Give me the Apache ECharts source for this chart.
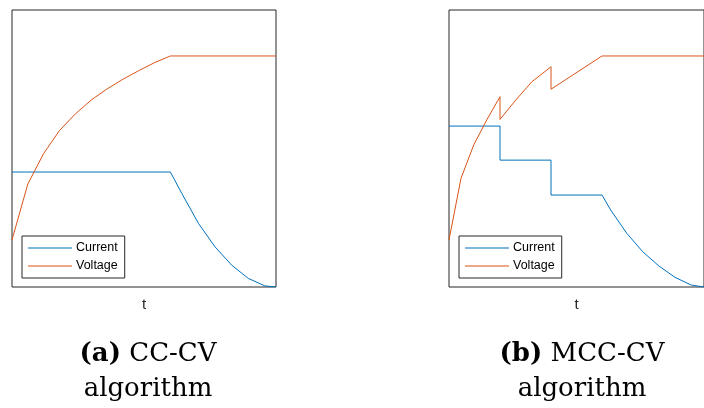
<!DOCTYPE html>
<html>
<head>
<meta charset="utf-8">
<script src="https://cdn.jsdelivr.net/npm/echarts@6/dist/echarts.min.js"></script>
<style>html,body{margin:0;padding:0;background:#fff}#c{width:704px;height:408px}</style>
</head>
<body>
<div id="c"></div>
<script>
// ---- Data (t normalized 0..100, values normalized 0..1) ----
const seriesNames = ['Current', 'Voltage'];

// (a) CC-CV
const ccT_current = [0, 60, 64.3, 70.6, 76.9, 83.2, 89.5, 95.8, 100];
const cc_current  = [0.415, 0.415, 0.338, 0.230, 0.145, 0.079, 0.031, 0.004, 0];
const ccT_voltage = [0, 6, 12, 18, 24, 30, 36, 42, 48, 54, 60, 100];
const cc_voltage  = [0.170, 0.372, 0.482, 0.565, 0.625, 0.675, 0.715, 0.750, 0.781, 0.810, 0.834, 0.834];

// (b) MCC-CV
const mccT_current = [0, 20, 20, 40, 40, 60, 63.4, 69.7, 76.0, 82.3, 88.6, 95.0, 100];
const mcc_current  = [0.581, 0.581, 0.458, 0.458, 0.332, 0.332, 0.278, 0.194, 0.127, 0.076, 0.035, 0.007, 0];
const mccT_voltage = [0, 4.7, 9.7, 14.8, 20, 20, 26.2, 32.5, 40, 40, 49.5, 60, 100];
const mcc_voltage  = [0.170, 0.392, 0.513, 0.603, 0.687, 0.605, 0.675, 0.741, 0.795, 0.714, 0.771, 0.834, 0.834];

const xLabel = 't';
const captions = [
  {tag: '(a)', title: 'CC-CV', line2: 'algorithm'},
  {tag: '(b)', title: 'MCC-CV', line2: 'algorithm'}
];

// ---- Build ----
const zip = (a, b) => a.map((v, i) => [v, b[i]]);
const BLUE = '#0072BD', ORANGE = '#D95319', AX = '#262626';
const grids = [
  {left: 12, top: 10, width: 264, height: 277},
  {left: 449, top: 10, width: 264, height: 277}
];
const chart = echarts.init(document.getElementById('c'), null, {renderer: 'canvas'});

const xAxes = grids.map((g, i) => ({
  type: 'value', gridIndex: i, min: 0, max: 100,
  axisLine: {show: false}, axisTick: {show: false}, axisLabel: {show: false}, splitLine: {show: false},
  name: xLabel, nameLocation: 'middle', nameGap: 10,
  nameTextStyle: {fontFamily: 'Liberation Sans, Arial, sans-serif', fontSize: 15, color: AX}
}));
const yAxes = grids.map((g, i) => ({
  type: 'value', gridIndex: i, min: 0, max: 1,
  axisLine: {show: false}, axisTick: {show: false}, axisLabel: {show: false}, splitLine: {show: false}
}));
const mk = (name, data, color, idx) => ({
  name, type: 'line', xAxisIndex: idx, yAxisIndex: idx, data,
  symbol: 'none', animation: false, lineStyle: {color, width: 1}, itemStyle: {color}
});
const series = [
  mk('Current', zip(ccT_current, cc_current), BLUE, 0),
  mk('Voltage', zip(ccT_voltage, cc_voltage), ORANGE, 0),
  mk('Current', zip(mccT_current, mcc_current), BLUE, 1),
  mk('Voltage', zip(mccT_voltage, mcc_voltage), ORANGE, 1)
];
const legends = grids.map((g) => ({
  data: seriesNames, orient: 'vertical', left: g.left + 10, top: 236,
  icon: 'rect', itemWidth: 44, itemHeight: 1, itemGap: 4, padding: [5, 7, 5, 6],
  borderColor: AX, borderWidth: 1, backgroundColor: '#fff', selectedMode: false,
  textStyle: {fontFamily: 'Liberation Sans, Arial, sans-serif', fontSize: 12.5, color: '#000', lineHeight: 14, padding: [0, 0, 0, -1]}
}));
const serif = '"DejaVu Serif", "Liberation Serif", serif';
const graphics = [];
captions.forEach((c, i) => {
  const cx = i === 0 ? 148 : 582;
  graphics.push({
    type: 'text', x: cx, y: 354,
    style: {
      text: '{b|' + c.tag + '} ' + c.title,
      align: 'center', verticalAlign: 'middle',
      font: '26px ' + serif, fill: '#000',
      rich: {b: {fontWeight: 'bold', fontFamily: serif, fontSize: 26, fill: '#000'}}
    }
  });
  graphics.push({
    type: 'text', x: cx, y: 389,
    style: {text: c.line2, align: 'center', verticalAlign: 'middle', font: '26px ' + serif, fill: '#000'}
  });
});

chart.setOption({
  animation: false,
  backgroundColor: '#fff',
  grid: grids.map(g => Object.assign({show: true, borderColor: AX, borderWidth: 1, backgroundColor: '#fff', containLabel: false}, g)),
  xAxis: xAxes, yAxis: yAxes, series, legend: legends, graphic: graphics
});
</script>
</body>
</html>
